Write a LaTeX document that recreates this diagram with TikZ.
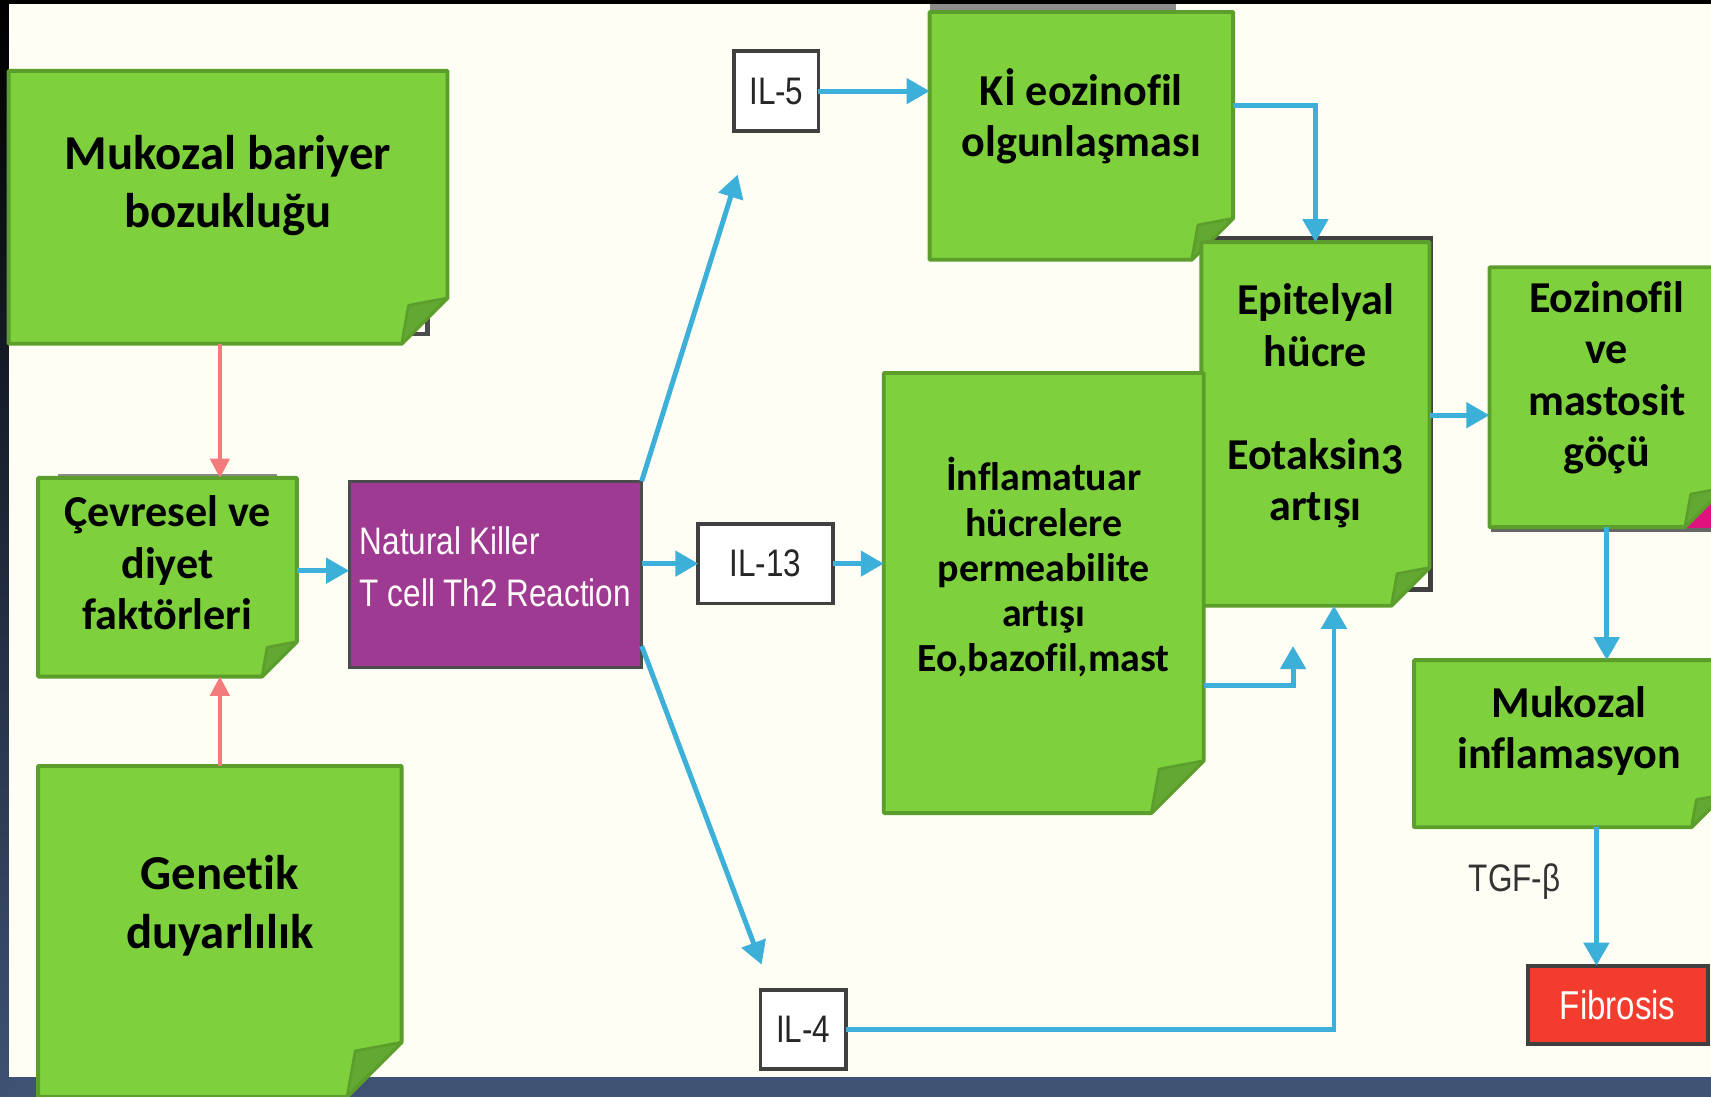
\documentclass[tikz,border=0pt]{standalone}
\usepackage{fontspec}
\setmainfont{Carlito}[Ligatures=NoCommon]
\newfontfamily\helvnarrow[FakeStretch=0.82]{Liberation Sans}
\usepackage{tikz}
\usetikzlibrary{positioning,calc,arrows.meta,backgrounds}

\definecolor{slidecream}{HTML}{FFFEF4}
\definecolor{slidenavy}{HTML}{3E5273}
\definecolor{notegreen}{HTML}{7ED13D}
\definecolor{noteedge}{HTML}{5C9E2B}
\definecolor{notefoldc}{HTML}{63A832}
\definecolor{nkpurple}{HTML}{9E3A91}
\definecolor{flowblue}{HTML}{3DB0D9}
\definecolor{flowred}{HTML}{F47B7B}
\definecolor{fibred}{HTML}{F13C2E}

\begin{document}
\begin{tikzpicture}[x=0.01cm, y=-0.01cm,
    note/.style={rectangle, inner sep=0pt, outer sep=0pt},
    notetext/.style={align=center, font=\bfseries\fontsize{11.5}{13.4}\selectfont},
    notebig/.style={align=center, font=\bfseries\fontsize{12.7}{15.2}\selectfont},
    notesmall/.style={align=center, font=\bfseries\fontsize{10.4}{11.8}\selectfont},
    notebox/.style={fill=notegreen, draw=noteedge, line width=1pt, line join=round},
    notefold/.style={fill=notefoldc, draw=noteedge, line width=0.7pt, line join=round},
    ilbox/.style={draw=black!75, fill=white, line width=1pt, inner sep=0pt, outer sep=0pt,
        font=\helvnarrow\fontsize{10}{12}\selectfont, text=black!85},
    blueflow/.style={flowblue, line width=1.3pt, -{Triangle[width=6.5pt,length=6pt]}},
    redflow/.style={flowred, line width=1pt, -{Triangle[width=5pt,length=5pt]}}]
    \useasboundingbox (0,0) rectangle (1568,1005);

    % Causes
    \node[note, minimum width=4.02cm, minimum height=2.5cm,
        label={[notebig, yshift=0.2cm]center:{Mukozal bariyer\\bozukluğu}}] (mbar) at (209,190) {};
    \node[note, minimum width=2.37cm, minimum height=1.82cm,
        label={[notetext, yshift=0.13cm]center:{Çevresel ve\\diyet\\faktörleri}}] (cevre) at (153.5,529) {};
    \node[note, minimum width=3.33cm, minimum height=3.03cm,
        label={[notebig, yshift=0.235cm]center:{Genetik\\duyarlılık}}] (gen) at (201.5,853.5) {};

    % Th2 reaction and interleukins
    \node[draw=black!70, fill=nkpurple, line width=0.8pt, inner sep=0pt, outer sep=0pt,
        minimum width=2.68cm, minimum height=1.71cm,
        label={[align=left, text=white!92!pink, yshift=0.07cm,
            font=\helvnarrow\fontsize{10}{13.7}\selectfont]center:{Natural Killer\\T cell Th2 Reaction}}] (nk) at (454,526.5) {};
    \node[ilbox, minimum width=0.77cm, minimum height=0.73cm] (il5) at (711.5,83.5) {IL-5};
    \node[ilbox, minimum width=1.23cm, minimum height=0.73cm] (il13) at (701.5,516.5) {IL-13};
    \node[ilbox, minimum width=0.78cm, minimum height=0.73cm] (il4) at (736,943.5) {IL-4};
    \coordinate (il5tip) at (676,160);
    \coordinate (il4tip) at (698,884);

    % Effects
    \node[note, minimum width=2.78cm, minimum height=2.27cm,
        label={[notetext, yshift=0.18cm]center:{Kİ eozinofil\\olgunlaşması}}] (ki) at (991,124.5) {};
    \node[note, minimum width=2.93cm, minimum height=4.03cm,
        label={[notesmall, yshift=0.235cm]center:{İnflamatuar\\hücrelere\\permeabilite\\artışı\\Eo,bazofil,mast}}] (inf) at (956.5,543.5) {};
    \node[note, minimum width=2.09cm, minimum height=3.33cm,
        label={[notetext, yshift=0.165cm]center:{Epitelyal\\hücre\\[13.4pt]Eotaksin{\addfontfeature{Numbers=OldStyle}3}\\artışı}}] (epi) at (1205.5,388.5) {};
    \node[note, minimum width=2.15cm, minimum height=2.38cm,
        label={[notetext, yshift=0.18cm]center:{Eozinofil\\ve\\mastosit\\göçü}}] (eoz) at (1472.5,364) {};
    \node[note, minimum width=2.84cm, minimum height=1.53cm,
        label={[notetext, yshift=0.115cm]center:{Mukozal\\inflamasyon}}] (minf) at (1438,681.5) {};
    \node[draw=black!75, fill=fibred, line width=1pt, inner sep=0pt, outer sep=0pt,
        minimum width=1.65cm, minimum height=0.72cm, text=white!95!pink,
        font=\helvnarrow\fontsize{10.5}{12}\selectfont] (fib) at (1482.5,921) {Fibrosis};
    \node[font=\helvnarrow\fontsize{10}{12}\selectfont, text=black!80] (tgf) at (1388,808) {TGF-β};
    \coordinate (inftip) at (1185,592);

    % Arrows
    \draw[redflow] (gen.north |- mbar.south) -- (gen.north |- cevre.north);
    \draw[redflow] (gen.north) -- (gen.north |- cevre.south);
    \draw[blueflow] ([yshift=0.06cm]cevre.east) -- ([yshift=0.06cm]cevre.east -| nk.west);
    \draw[blueflow] (nk.north east) -- (il5tip);
    \draw[blueflow] (nk.east |- il13.west) -- (il13.west);
    \draw[blueflow] ([yshift=0.2cm]nk.south east) -- (il4tip);
    \draw[blueflow] (il5.east) -- (il5.east -| ki.west);
    \draw[blueflow] (il13.east) -- (il13.east -| inf.west);
    \draw[blueflow] ([yshift=0.28cm]ki.east) -| (epi.north);
    \draw[blueflow] ([yshift=-0.85cm]inf.east) -| (inftip);
    \draw[blueflow] (il4.east) -| ([xshift=0.17cm]epi.south);
    \draw[blueflow] ([yshift=0.08cm]epi.east) -- ([yshift=0.08cm]epi.east -| eoz.west);
    \draw[blueflow] (eoz.south) -- (eoz.south |- minf.north);
    \draw[blueflow] ([xshift=0.25cm]minf.south) -- ([xshift=0.25cm]minf.south |- fib.north);

    % Slide and sticky notes
    \begin{scope}[on background layer]
        \fill[slidecream] (0,0) rectangle (1568,1005);
        \fill[slidenavy] (0,987) rectangle (1568,1005);
        \fill[black] (0,0) rectangle (1568,4);
        \shade[top color=black, bottom color=slidenavy] (0,0) rectangle (8,1005);
        % boxes of the original figure
        \filldraw[fill=slidecream, draw=black!70, line width=1.2pt] (30,75) rectangle (392,306);
        \filldraw[fill=slidecream, draw=black!45, line width=1pt] (55,436) rectangle (252,600);
        \fill[black!45] (852,4) rectangle (1078,230);
        \filldraw[fill=slidecream, draw=black!75, line width=1.2pt] (1112,218) rectangle (1311,540);
        \filldraw[fill=magenta!75!purple, draw=black!60, line width=1pt] (1368,250) rectangle (1580,486);
        \foreach \n/\f in {mbar/0.42cm, cevre/0.32cm, gen/0.5cm, ki/0.38cm, epi/0.35cm, inf/0.48cm, eoz/0.36cm, minf/0.3cm} {
            \filldraw[notebox] (\n.north west) -- (\n.north east) -- ([yshift=\f]\n.south east)
                -- ([xshift=-\f]\n.south east) -- (\n.south west) -- cycle;
            \filldraw[notefold] ([yshift=\f]\n.south east) -- ([xshift={-0.85*\f}, yshift={0.84*\f}]\n.south east)
                -- ([xshift=-\f]\n.south east) -- cycle;
        }
    \end{scope}
\end{tikzpicture}
\end{document}
